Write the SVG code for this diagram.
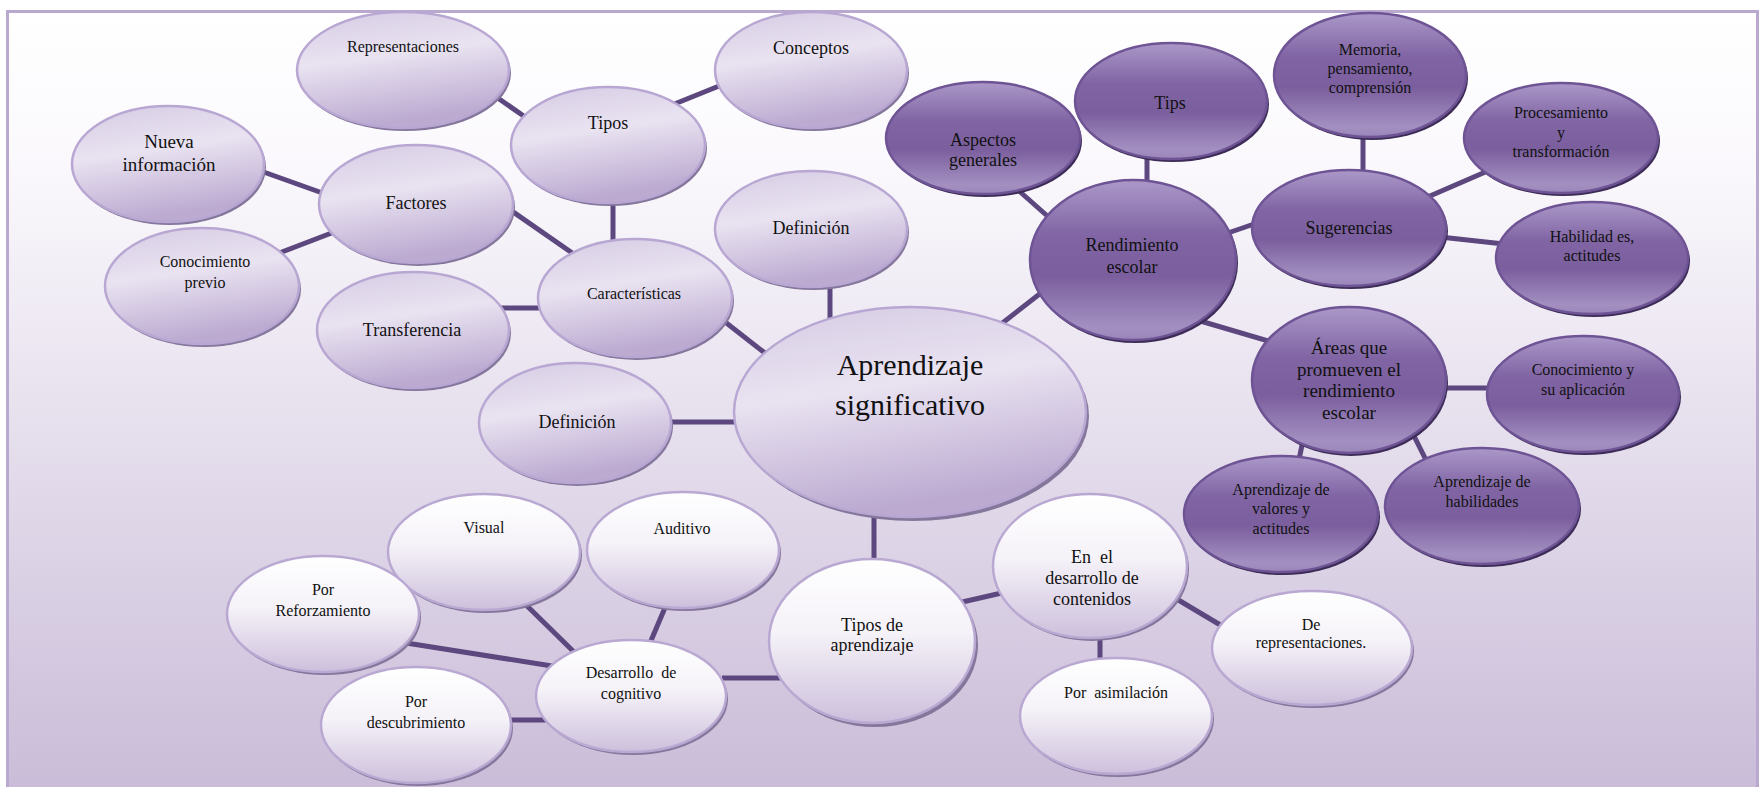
<svg xmlns="http://www.w3.org/2000/svg" width="1760" height="787" viewBox="0 0 1760 787">
<defs>
<linearGradient id="bg" x1="0" y1="0" x2="0" y2="1">
<stop offset="0" stop-color="#ffffff"/><stop offset="0.2" stop-color="#faf8fc"/><stop offset="1" stop-color="#c8bad7"/>
</linearGradient>
<linearGradient id="glt" x1="0" y1="0" x2="0.25" y2="1">
<stop offset="0" stop-color="#d6cbe4"/><stop offset="0.45" stop-color="#e9e3f1"/><stop offset="1" stop-color="#bcaad1"/>
</linearGradient>
<linearGradient id="gwh" x1="0" y1="0" x2="0" y2="1">
<stop offset="0" stop-color="#ffffff"/><stop offset="0.45" stop-color="#f5f2f8"/><stop offset="1" stop-color="#cdbfdc"/>
</linearGradient>
<linearGradient id="gdk" x1="0" y1="0" x2="0" y2="1">
<stop offset="0" stop-color="#ab98c8"/><stop offset="0.35" stop-color="#8064a4"/><stop offset="0.6" stop-color="#7b5e9e"/><stop offset="0.92" stop-color="#a390c1"/><stop offset="1" stop-color="#9a85b8"/>
</linearGradient>
</defs>
<style>
.lt{fill:url(#glt);stroke:#b8a7d2;stroke-width:2.5}
.wh{fill:url(#gwh);stroke:#b9a8d2;stroke-width:2.5}
.dk{fill:url(#gdk);stroke:#6e5494;stroke-width:2.5}
.sl{fill:#85769c}
.sd{fill:#3d2c57}
.t{font-family:"Liberation Serif","Times New Roman",serif;fill:#111;text-anchor:middle}
.s16{font-size:16px}
.s18{font-size:18px}
.s19{font-size:19px}
.s30{font-size:30px}
#connectors line{stroke:#5c477e;stroke-width:5;stroke-linecap:butt}
</style>
<rect x="0" y="0" width="1760" height="787" fill="#ffffff"/>
<rect x="7.5" y="11.5" width="1750" height="800" fill="url(#bg)" stroke="#b9a9cf" stroke-width="3"/>
<g id="connectors">
<line x1="492" y1="94" x2="528" y2="119"/>
<line x1="672" y1="105" x2="724" y2="84"/>
<line x1="613" y1="198" x2="613" y2="245"/>
<line x1="258" y1="170" x2="328" y2="195"/>
<line x1="274" y1="255" x2="342" y2="229"/>
<line x1="506" y1="207" x2="578" y2="257"/>
<line x1="500" y1="308" x2="546" y2="308"/>
<line x1="830" y1="280" x2="830" y2="325"/>
<line x1="720" y1="318" x2="770" y2="357"/>
<line x1="666" y1="422" x2="740" y2="422"/>
<line x1="1018" y1="190" x2="1053" y2="221"/>
<line x1="1147" y1="155" x2="1147" y2="185"/>
<line x1="996" y1="328" x2="1046" y2="289"/>
<line x1="1225" y1="234" x2="1257" y2="223"/>
<line x1="1363" y1="134" x2="1363" y2="175"/>
<line x1="1423" y1="199" x2="1490" y2="170"/>
<line x1="1440" y1="237" x2="1504" y2="244"/>
<line x1="1197" y1="320" x2="1272" y2="342"/>
<line x1="1440" y1="388" x2="1492" y2="388"/>
<line x1="1303" y1="440" x2="1299" y2="460"/>
<line x1="1411" y1="430" x2="1427" y2="462"/>
<line x1="874" y1="512" x2="874" y2="564"/>
<line x1="958" y1="603" x2="1006" y2="592"/>
<line x1="1100" y1="634" x2="1100" y2="662"/>
<line x1="1170" y1="595" x2="1222" y2="626"/>
<line x1="722" y1="678" x2="782" y2="678"/>
<line x1="667" y1="603" x2="650" y2="643"/>
<line x1="520" y1="599" x2="574" y2="652"/>
<line x1="400" y1="642" x2="552" y2="666"/>
<line x1="508" y1="720" x2="548" y2="720"/>
</g>
<g id="n-representaciones"><ellipse class="sl" cx="405" cy="73" rx="106" ry="58"/><ellipse class="lt" cx="403" cy="70" rx="106" ry="58"/><text class="t s16" x="403" y="52">Representaciones</text></g>
<g id="n-conceptos"><ellipse class="sl" cx="813" cy="73" rx="96" ry="58"/><ellipse class="lt" cx="811" cy="70" rx="96" ry="58"/><text class="t s18" x="811" y="54">Conceptos</text></g>
<g id="n-tipos"><ellipse class="sl" cx="610" cy="148" rx="97" ry="58"/><ellipse class="lt" cx="608" cy="145" rx="97" ry="58"/><text class="t s18" x="608" y="129">Tipos</text></g>
<g id="n-nueva"><ellipse class="sl" cx="170" cy="167" rx="96" ry="58"/><ellipse class="lt" cx="168" cy="164" rx="96" ry="58"/><text class="t s19" x="169" y="148">Nueva</text><text class="t s19" x="169" y="171">información</text></g>
<g id="n-factores"><ellipse class="sl" cx="418" cy="207" rx="97" ry="59"/><ellipse class="lt" cx="416" cy="204" rx="97" ry="59"/><text class="t s18" x="416" y="209">Factores</text></g>
<g id="n-conocimiento-previo"><ellipse class="sl" cx="204" cy="289" rx="97" ry="58"/><ellipse class="lt" cx="202" cy="286" rx="97" ry="58"/><text class="t s16" x="205" y="267">Conocimiento</text><text class="t s16" x="205" y="288">previo</text></g>
<g id="n-transferencia"><ellipse class="sl" cx="415" cy="333" rx="96" ry="58"/><ellipse class="lt" cx="413" cy="330" rx="96" ry="58"/><text class="t s18" x="412" y="336">Transferencia</text></g>
<g id="n-caracteristicas"><ellipse class="sl" cx="637" cy="301" rx="97" ry="59"/><ellipse class="lt" cx="635" cy="298" rx="97" ry="59"/><text class="t s16" x="634" y="299">Características</text></g>
<g id="n-definicion-1"><ellipse class="sl" cx="813" cy="232" rx="96" ry="58"/><ellipse class="lt" cx="811" cy="229" rx="96" ry="58"/><text class="t s18" x="811" y="234">Definición</text></g>
<g id="n-definicion-2"><ellipse class="sl" cx="577" cy="426" rx="96" ry="60"/><ellipse class="lt" cx="575" cy="423" rx="96" ry="60"/><text class="t s18" x="577" y="428">Definición</text></g>
<g id="n-central"><ellipse class="sl" cx="913" cy="416" rx="176" ry="105"/><ellipse class="lt" cx="910" cy="412" rx="176" ry="105"/><text class="t s30" x="910" y="375">Aprendizaje</text><text class="t s30" x="910" y="415">significativo</text></g>
<g id="n-visual"><ellipse class="sl" cx="486" cy="555" rx="96" ry="58"/><ellipse class="wh" cx="484" cy="552" rx="96" ry="58"/><text class="t s16" x="484" y="533">Visual</text></g>
<g id="n-auditivo"><ellipse class="sl" cx="685" cy="553" rx="96" ry="58"/><ellipse class="wh" cx="683" cy="550" rx="96" ry="58"/><text class="t s16" x="682" y="534">Auditivo</text></g>
<g id="n-reforzamiento"><ellipse class="sl" cx="325" cy="617" rx="96" ry="58"/><ellipse class="wh" cx="323" cy="614" rx="96" ry="58"/><text class="t s16" x="323" y="595">Por</text><text class="t s16" x="323" y="616">Reforzamiento</text></g>
<g id="n-descubrimiento"><ellipse class="sl" cx="418" cy="728" rx="95" ry="58"/><ellipse class="wh" cx="416" cy="725" rx="95" ry="58"/><text class="t s16" x="416" y="707">Por</text><text class="t s16" x="416" y="728">descubrimiento</text></g>
<g id="n-desarrollo-cognitivo"><ellipse class="sl" cx="633" cy="699" rx="95" ry="56"/><ellipse class="wh" cx="631" cy="696" rx="95" ry="56"/><text class="t s16" x="631" y="678" xml:space="preserve">Desarrollo  de</text><text class="t s16" x="631" y="699">cognitivo</text></g>
<g id="n-tipos-aprendizaje"><ellipse class="sl" cx="875" cy="645" rx="103" ry="82"/><ellipse class="wh" cx="872" cy="641" rx="103" ry="82"/><text class="t s18" x="872" y="631">Tipos de</text><text class="t s18" x="872" y="651">aprendizaje</text></g>
<g id="n-desarrollo-contenidos"><ellipse class="sl" cx="1092" cy="569" rx="97" ry="72"/><ellipse class="wh" cx="1090" cy="566" rx="97" ry="72"/><text class="t s18" x="1092" y="563" xml:space="preserve">En  el</text><text class="t s18" x="1092" y="584">desarrollo de</text><text class="t s18" x="1092" y="605">contenidos</text></g>
<g id="n-asimilacion"><ellipse class="sl" cx="1118" cy="719" rx="96" ry="58"/><ellipse class="wh" cx="1116" cy="716" rx="96" ry="58"/><text class="t s16" x="1116" y="698" xml:space="preserve">Por  asimilación</text></g>
<g id="n-representaciones-2"><ellipse class="sl" cx="1314" cy="651" rx="100" ry="57"/><ellipse class="wh" cx="1312" cy="648" rx="100" ry="57"/><text class="t s16" x="1311" y="630">De</text><text class="t s16" x="1311" y="648">representaciones.</text></g>
<g id="n-tips"><ellipse class="sd" cx="1173" cy="104" rx="96" ry="58"/><ellipse class="dk" cx="1171" cy="101" rx="96" ry="58"/><text class="t s18" x="1170" y="109">Tips</text></g>
<g id="n-aspectos"><ellipse class="sd" cx="985" cy="141" rx="97" ry="56"/><ellipse class="dk" cx="983" cy="138" rx="97" ry="56"/><text class="t s18" x="983" y="146">Aspectos</text><text class="t s18" x="983" y="166">generales</text></g>
<g id="n-rendimiento"><ellipse class="sd" cx="1135" cy="263" rx="103" ry="80"/><ellipse class="dk" cx="1133" cy="260" rx="103" ry="80"/><text class="t s18" x="1132" y="251">Rendimiento</text><text class="t s18" x="1132" y="273">escolar</text></g>
<g id="n-memoria"><ellipse class="sd" cx="1372" cy="78" rx="96" ry="62"/><ellipse class="dk" cx="1370" cy="75" rx="96" ry="62"/><text class="t s16" x="1370" y="55">Memoria,</text><text class="t s16" x="1370" y="74">pensamiento,</text><text class="t s16" x="1370" y="93">comprensión</text></g>
<g id="n-procesamiento"><ellipse class="sd" cx="1563" cy="141" rx="97" ry="55"/><ellipse class="dk" cx="1561" cy="138" rx="97" ry="55"/><text class="t s16" x="1561" y="118">Procesamiento</text><text class="t s16" x="1561" y="138">y</text><text class="t s16" x="1561" y="157">transformación</text></g>
<g id="n-sugerencias"><ellipse class="sd" cx="1351" cy="231" rx="97" ry="58"/><ellipse class="dk" cx="1349" cy="228" rx="97" ry="58"/><text class="t s18" x="1349" y="234">Sugerencias</text></g>
<g id="n-habilidades-actitudes"><ellipse class="sd" cx="1594" cy="261" rx="96" ry="56"/><ellipse class="dk" cx="1592" cy="258" rx="96" ry="56"/><text class="t s16" x="1592" y="242">Habilidad es,</text><text class="t s16" x="1592" y="261">actitudes</text></g>
<g id="n-areas"><ellipse class="sd" cx="1351" cy="383" rx="97" ry="73"/><ellipse class="dk" cx="1349" cy="380" rx="97" ry="73"/><text class="t s19" x="1349" y="354">Áreas que</text><text class="t s19" x="1349" y="376">promueven el</text><text class="t s19" x="1349" y="397">rendimiento</text><text class="t s19" x="1349" y="419">escolar</text></g>
<g id="n-conocimiento-aplicacion"><ellipse class="sd" cx="1585" cy="397" rx="96" ry="58"/><ellipse class="dk" cx="1583" cy="394" rx="96" ry="58"/><text class="t s16" x="1583" y="375">Conocimiento y</text><text class="t s16" x="1583" y="395">su aplicación</text></g>
<g id="n-valores"><ellipse class="sd" cx="1283" cy="517" rx="97" ry="58"/><ellipse class="dk" cx="1281" cy="514" rx="97" ry="58"/><text class="t s16" x="1281" y="495">Aprendizaje de</text><text class="t s16" x="1281" y="514">valores y</text><text class="t s16" x="1281" y="534">actitudes</text></g>
<g id="n-habilidades"><ellipse class="sd" cx="1484" cy="509" rx="97" ry="58"/><ellipse class="dk" cx="1482" cy="506" rx="97" ry="58"/><text class="t s16" x="1482" y="487">Aprendizaje de</text><text class="t s16" x="1482" y="507">habilidades</text></g>
</svg>
